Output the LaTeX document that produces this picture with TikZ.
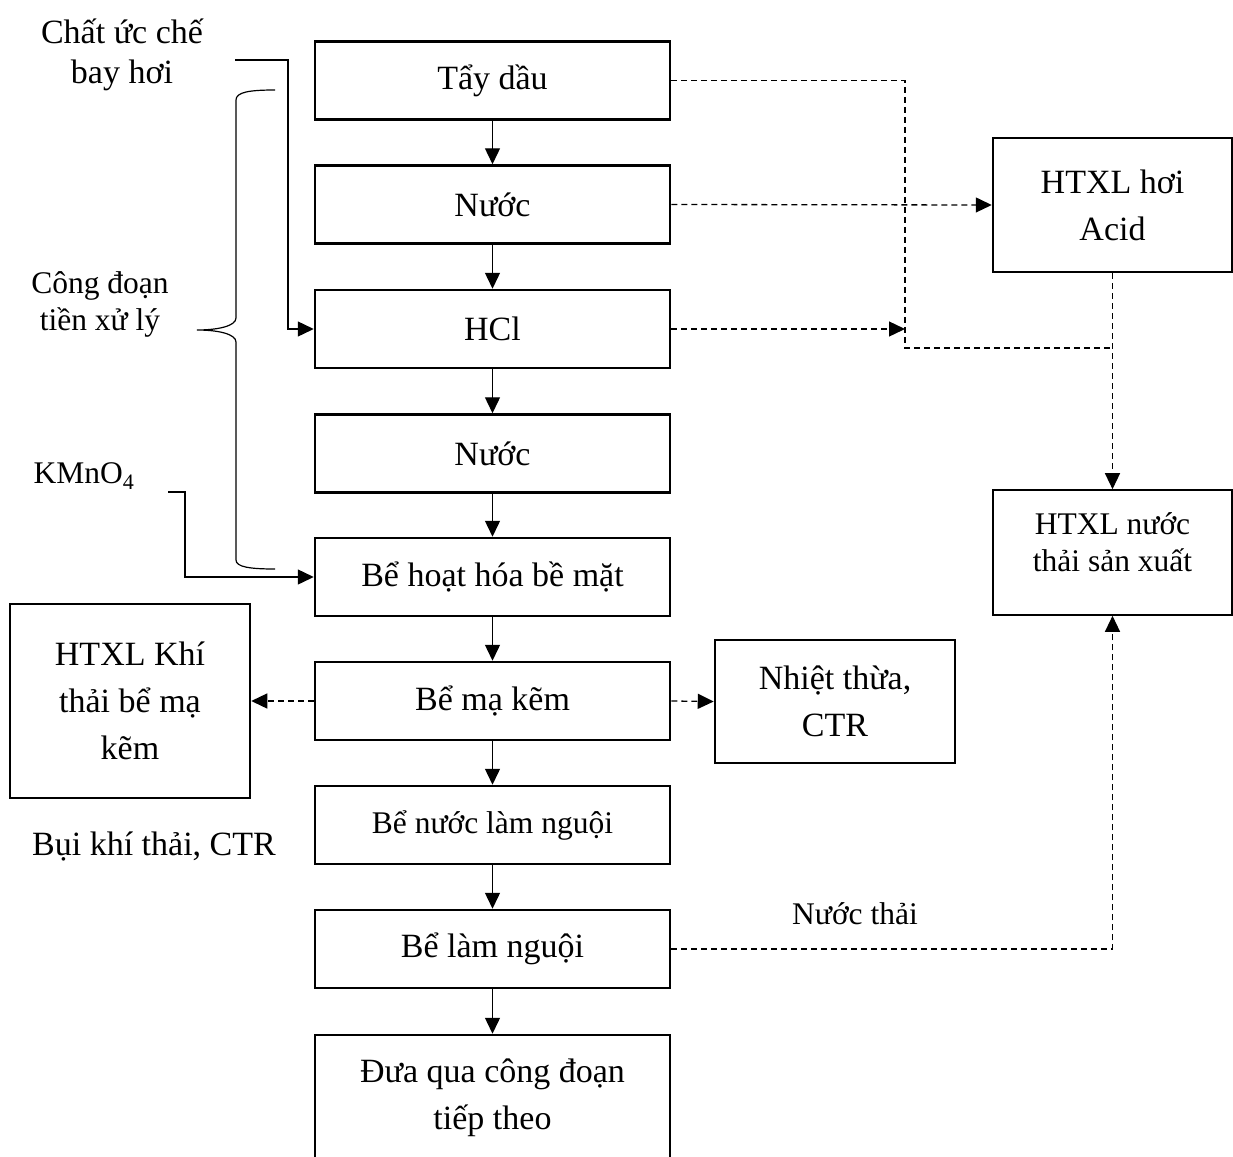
\documentclass[tikz,border=0pt]{standalone}
\usepackage{fontspec}
\setmainfont{Liberation Serif}
\usetikzlibrary{arrows.meta}
\newcommand{\bigtxt}{\fontsize{34}{47}\selectfont}
\newcommand{\smalltxt}{\fontsize{31.5}{37}\selectfont}
\tikzset{
  box/.style={draw, line width=2.5pt, minimum width=355pt, minimum height=78pt,
    inner sep=0pt, align=center, font=\bigtxt},
  sidebox/.style={box, minimum width=240pt},
  lbl/.style={align=center, font=\bigtxt, inner sep=0pt},
  flow/.style={->, line width=1.4pt},
  dsh/.style={line width=1.3pt, dash pattern=on 6pt off 4pt}
}

\begin{document}
\begin{tikzpicture}[x=1pt, y=-1pt, >={Triangle[length=16pt,width=15pt]}]
\clip (0,0) rectangle (1233,1156);

% main line
\node[box] (tay) at (492.5,80.5) {Tẩy dầu};
\node[box] (nuoc1) at (492.5,204.5) {Nước};
\node[box] (hcl) at (492.5,329) {HCl};
\node[box] (nuoc2) at (492.5,453.5) {Nước};
\node[box] (hoat) at (492.5,577) {Bể hoạt hóa bề mặt};
\node[box] (ma) at (492.5,701) {Bể mạ kẽm};
\node[box, font=\smalltxt] (nuoclam) at (492.5,825) {Bể nước làm nguội};
\node[box] (lamnguoi) at (492.5,949) {Bể làm nguội};
\node[box, minimum height=126pt] (dua) at (492.5,1098) {Đưa qua công đoạn\\tiếp theo};

\draw[flow] (tay) -- (nuoc1);
\draw[flow] (nuoc1) -- (hcl);
\draw[flow] (hcl) -- (nuoc2);
\draw[flow] (nuoc2) -- (hoat);
\draw[flow] (hoat) -- (ma);
\draw[flow] (ma) -- (nuoclam);
\draw[flow] (nuoclam) -- (lamnguoi);
\draw[flow] (lamnguoi) -- (dua);

% side boxes
\node[sidebox, minimum width=239pt, minimum height=134pt] (acid) at (1112.5,205) {HTXL hơi\\Acid};
\node[sidebox, line width=1.6pt, minimum width=239pt, minimum height=125pt] (nuocthai) at (1112.5,552.5) {};
\node[lbl, font=\smalltxt] (nuocthaitxt) at (1112.5,542) {HTXL nước\\thải sản xuất};
\node[sidebox, minimum height=123pt] (nhiet) at (835,701.5) {Nhiệt thừa,\\CTR};
\node[sidebox, minimum height=194pt] (khi) at (130,701) {HTXL Khí\\thải bể mạ\\kẽm};

% labels
\node[lbl, font=\fontsize{34}{40}\selectfont] (chat) at (122,55) {Chất ức chế\\bay hơi};
\node[lbl, font=\smalltxt] (congdoan) at (100,304) {Công đoạn\\tiền xử lý};
\node[lbl, font=\smalltxt] (kmno) at (84,476) {KMnO\textsubscript{4}};
\node[lbl] (bui) at (154,846) {Bụi khí thải, CTR};
\node[lbl, font=\smalltxt] (nthai) at (855,914) {Nước thải};

% inputs
\coordinate (cin) at (235,60);
\coordinate (kin) at (168,492);
\draw[flow] (cin) -- ++(53,0) |- (hcl.west);
\draw[flow] (kin) -- ++(17,0) |- (hoat.west);

% brace
\draw[line width=1.2pt] (275,90) .. controls (250,90) and (236,92) .. (236,100)
  -- (236,318) .. controls (236,326) and (218,330) .. (197,330)
  .. controls (218,330) and (236,334) .. (236,342)
  -- (236,560) .. controls (236,567) and (250,569) .. (275,569);

% dashed outputs
\coordinate (bend) at (905,348);
\coordinate (jn) at (1112.5,348);
\draw[dsh] (tay.east) -| (bend) -- (jn);
\draw[dsh, ->] (nuoc1.east) -- (acid.west);
\draw[dsh, ->] (hcl.east) -- (hcl.east -| bend);
\draw[dsh, ->] (acid.south) -- (nuocthai.north);
\draw[dsh, ->] (lamnguoi.east) -| (nuocthai.south);
\draw[dsh, ->] (ma.west) -- (khi.east);
\draw[dsh, ->] (ma.east) -- (nhiet.west);
\end{tikzpicture}
\end{document}
